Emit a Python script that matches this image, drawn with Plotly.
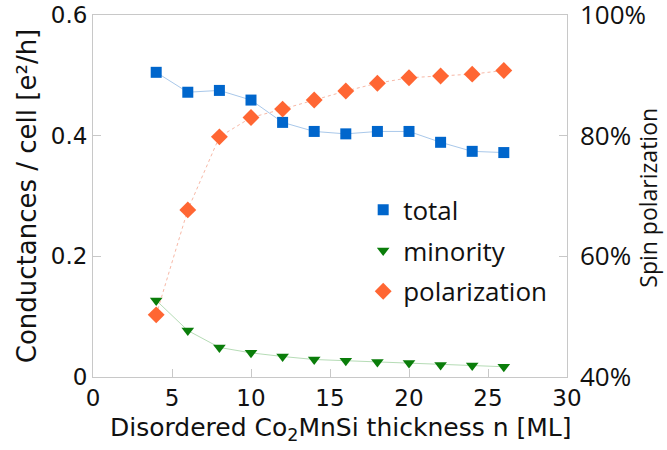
import plotly.graph_objects as go

n_ml = [4, 6, 8, 10, 12, 14, 16, 18, 20, 22, 24, 26]
total = [0.505, 0.472, 0.475, 0.459, 0.422, 0.407, 0.403, 0.407, 0.407, 0.389, 0.374, 0.372]
minority = [0.127, 0.077, 0.049, 0.040, 0.034, 0.029, 0.027, 0.025, 0.023, 0.020, 0.019, 0.017]
polarization = [50.3, 67.7, 79.8, 83.0, 84.4, 85.9, 87.4, 88.7, 89.6, 89.9, 90.2, 90.8]
left_ticks = [0, 0.2, 0.4, 0.6]
left_labels = ["0", "0.2", "0.4", "0.6"]
right_ticks = [40, 60, 80, 100]
right_labels = ["40%", "60%", "80%", "100%"]
x_ticks = [0, 5, 10, 15, 20, 25, 30]

DV = "DejaVu Sans"
OS = "Open Sans"
frame = "#c8c8c8"
ink = "#111111"

series = [
    ("total", total, "y", dict(color="#a9c8ea", width=1), dict(symbol="square", size=11, color="#0066cc")),
    ("minority", minority, "y", dict(color="#b6dcb6", width=1), dict(symbol="triangle-down", size=11, color="#0a7d0a")),
    ("polarization", polarization, "y2", dict(color="#f7b8a6", width=1, dash="dot"), dict(symbol="diamond", size=13, color="#ff6633")),
]

fig = go.Figure()
for name, vals, yax, line, marker in series:
    fig.add_trace(go.Scatter(
        x=n_ml, y=vals, name=name, mode="lines+markers", yaxis=yax,
        line=line, marker=marker, showlegend=False,
    ))
# legend entries (markers only, as in the reference)
for name, vals, yax, line, marker in series:
    fig.add_trace(go.Scatter(
        x=[None], y=[None], name=name, mode="markers", yaxis=yax,
        marker=marker, showlegend=True, legendgroup=name,
    ))

fig.update_layout(
    width=667, height=450,
    margin=dict(l=93, r=100, t=15, b=73, autoexpand=False),
    paper_bgcolor="white", plot_bgcolor="white",
    font=dict(family=DV, size=22, color=ink),
    showlegend=True,
    legend=dict(x=0.57, y=0.527, xanchor="left", yanchor="top",
                bgcolor="rgba(0,0,0,0)", font=dict(family=OS, size=26, color=ink),
                itemsizing="trace", tracegroupgap=4),
    xaxis=dict(
        range=[0, 30], tickvals=x_ticks, automargin=False,
        showgrid=False, zeroline=False,
        showline=True, linecolor=frame, linewidth=1, mirror=True,
        ticks="inside", ticklen=8, tickcolor=frame,
        tickfont=dict(family=DV, size=23, color=ink),
    ),
    yaxis=dict(
        range=[0, 0.6], tickvals=left_ticks, ticktext=left_labels, automargin=False,
        showgrid=False, zeroline=False,
        showline=True, linecolor=frame, linewidth=1, mirror=True,
        ticks="inside", ticklen=8, tickcolor=frame, ticklabeloverflow="allow",
        tickfont=dict(family=DV, size=23, color=ink),
        title=dict(text="Conductances / cell [e²/h]", standoff=6,
                   font=dict(family=DV, size=26, color=ink)),
    ),
    yaxis2=dict(
        range=[40, 100], tickvals=right_ticks, ticktext=right_labels, automargin=False,
        overlaying="y", side="right",
        showgrid=False, zeroline=False, showline=False,
        ticks="inside", ticklen=8, tickcolor=frame, ticklabeloverflow="allow",
        ticklabelstandoff=12,
        tickfont=dict(family=OS, size=26, color=ink),
    ),
    annotations=[
        dict(text="Disordered Co<sub>2</sub>MnSi thickness n [ML]",
             xref="paper", yref="paper", x=0.523, y=-0.145,
             xanchor="center", yanchor="middle", showarrow=False,
             font=dict(family=DV, size=25, color=ink)),
        dict(text="Spin polarization", textangle=-90,
             xref="paper", yref="paper", x=1.172, y=0.494,
             xanchor="center", yanchor="middle", showarrow=False,
             font=dict(family=OS, size=23, color=ink)),
    ],
)

fig.write_html("out.html")
